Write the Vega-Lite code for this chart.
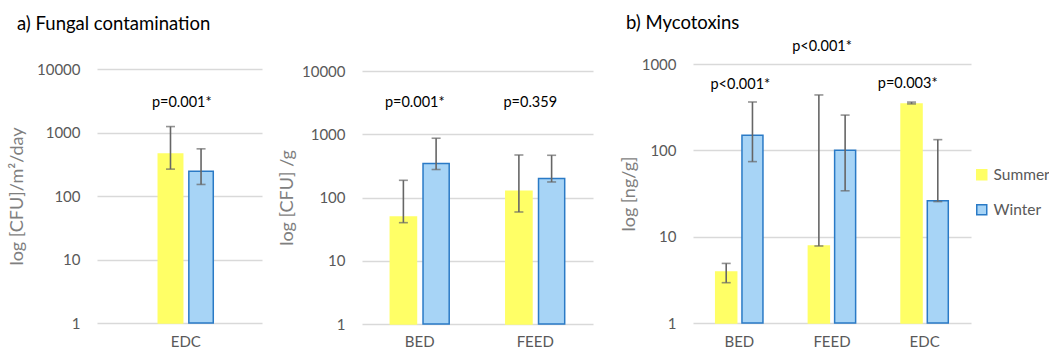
{
  "$schema": "https://vega.github.io/schema/vega-lite/v6.json",
  "autosize": {"type": "none"},
  "padding": {"left": 97, "top": 64, "right": 952, "bottom": 294},
  "background": "white",
  "config": {
    "font": "Lato",
    "view": {"stroke": null},
    "axis": {
      "labelFont": "Lato", "titleFont": "Lato",
      "labelColor": "#595959", "titleColor": "#7F7F7F",
      "titleFontWeight": "normal", "labelFontSize": 15, "titleFontSize": 18,
      "gridColor": "#D9D9D9", "gridWidth": 1.3,
      "domain": false, "ticks": false, "tickSize": 0
    },
    "axisX": {"labelAngle": 0, "labelPadding": 11, "grid": false},
    "axisY": {"labelPadding": 17, "grid": true},
    "legend": {
      "orient": "none", "legendX": 877, "legendY": 103,
      "symbolType": "square", "symbolSize": 100, "symbolStrokeWidth": 1.5,
      "labelFont": "Lato", "labelFontSize": 15.5, "labelColor": "#595959",
      "labelOffset": 4, "rowPadding": 17, "padding": 0
    },
    "title": {"font": "Lato", "fontSize": 18.5, "fontWeight": "normal", "color": "#000000", "anchor": "start", "frame": "group"}
  },
  "datasets": {
    "bars": [
      {"panel": "a1", "cat": "EDC", "season": "Summer", "value": 460, "lo": 265, "hi": 1240},
      {"panel": "a1", "cat": "EDC", "season": "Winter", "value": 246, "lo": 152, "hi": 553},
      {"panel": "a2", "cat": "BED", "season": "Summer", "value": 49, "lo": 40, "hi": 187},
      {"panel": "a2", "cat": "BED", "season": "Winter", "value": 344, "lo": 277, "hi": 865},
      {"panel": "a2", "cat": "FEED", "season": "Summer", "value": 126, "lo": 59, "hi": 470},
      {"panel": "a2", "cat": "FEED", "season": "Winter", "value": 199, "lo": 176, "hi": 465},
      {"panel": "b", "cat": "BED", "season": "Summer", "value": 3.9, "lo": 2.93, "hi": 4.9},
      {"panel": "b", "cat": "BED", "season": "Winter", "value": 150, "lo": 74, "hi": 363},
      {"panel": "b", "cat": "FEED", "season": "Summer", "value": 7.8, "lo": 7.8, "hi": 438},
      {"panel": "b", "cat": "FEED", "season": "Winter", "value": 100, "lo": 34, "hi": 256},
      {"panel": "b", "cat": "EDC", "season": "Summer", "value": 345, "lo": 345, "hi": 362},
      {"panel": "b", "cat": "EDC", "season": "Winter", "value": 26.1, "lo": 25.5, "hi": 133}
    ],
    "labels": [
      {"panel": "a1", "cat": "EDC", "y": 2900, "label": "p=0.001*"},
      {"panel": "a2", "cat": "BED", "y": 3100, "label": "p=0.001*"},
      {"panel": "a2", "cat": "FEED", "y": 3100, "label": "p=0.359"},
      {"panel": "b", "cat": "BED", "y": 575, "label": "p<0.001*"},
      {"panel": "b", "cat": "FEED", "y": 1580, "label": "p<0.001*"},
      {"panel": "b", "cat": "EDC", "y": 590, "label": "p=0.003*"}
    ]
  },
  "bounds": "flush",
  "spacing": 100,
  "resolve": {"scale": {"xOffset": "independent"}},
  "hconcat": [
    {
      "width": 165, "height": 259,
      "title": {"text": "a) Fungal contamination", "dx": -80, "offset": 29},
      "layer": [
        {
          "data": {"name": "bars"},
          "transform": [{"filter": "datum.panel === 'a1'"}],
          "layer": [
            {
              "mark": {"type": "bar", "strokeWidth": 1.5},
              "encoding": {
                "x": {"field": "cat", "type": "nominal", "sort": ["EDC"], "title": null,
                      "scale": {"paddingInner": 0, "paddingOuter": 1, "align": 0.557}},
                "xOffset": {"field": "season", "type": "nominal", "sort": ["Summer", "Winter"], "scale": {"paddingInner": 0.2}},
                "y": {"field": "value", "type": "quantitative",
                      "scale": {"type": "log", "domain": [1, 10000], "range": [259, 5]},
                      "axis": {"values": [1, 10, 100, 1000, 10000], "format": "d", "title": "log [CFU]/m²/day", "titlePadding": 10}},
                "y2": {"datum": 1},
                "color": {"field": "season", "type": "nominal", "title": null,
                          "scale": {"domain": ["Summer", "Winter"], "range": ["#FFFF66", "#A7D4F6"]}},
                "stroke": {"field": "season", "type": "nominal", "title": null,
                           "scale": {"domain": ["Summer", "Winter"], "range": ["#FFFF66", "#2A7AC6"]}}
              }
            },
            {
              "mark": {"type": "rule", "color": "#666666", "strokeWidth": 1.6},
              "encoding": {
                "x": {"field": "cat", "type": "nominal", "sort": ["EDC"]},
                "xOffset": {"field": "season", "type": "nominal", "sort": ["Summer", "Winter"]},
                "y": {"field": "lo", "type": "quantitative"},
                "y2": {"field": "hi"}
              }
            },
            {
              "mark": {"type": "tick", "color": "#666666", "thickness": 1.6, "size": 9},
              "encoding": {
                "x": {"field": "cat", "type": "nominal", "sort": ["EDC"]},
                "xOffset": {"field": "season", "type": "nominal", "sort": ["Summer", "Winter"]},
                "y": {"field": "lo", "type": "quantitative"}
              }
            },
            {
              "mark": {"type": "tick", "color": "#666666", "thickness": 1.6, "size": 9},
              "encoding": {
                "x": {"field": "cat", "type": "nominal", "sort": ["EDC"]},
                "xOffset": {"field": "season", "type": "nominal", "sort": ["Summer", "Winter"]},
                "y": {"field": "hi", "type": "quantitative"}
              }
            }
          ]
        },
        {
          "data": {"name": "labels"},
          "transform": [{"filter": "datum.panel === 'a1'"}],
          "mark": {"type": "text", "fontSize": 14.5, "color": "#000000", "baseline": "middle", "dx": -4},
          "encoding": {
            "x": {"field": "cat", "type": "nominal", "sort": ["EDC"]},
            "y": {"field": "y", "type": "quantitative"},
            "text": {"field": "label"}
          }
        }
      ]
    },
    {
      "width": 231, "height": 259,
      "layer": [
        {
          "data": {"name": "bars"},
          "transform": [{"filter": "datum.panel === 'a2'"}],
          "layer": [
            {
              "mark": {"type": "bar", "strokeWidth": 1.5},
              "encoding": {
                "x": {"field": "cat", "type": "nominal", "sort": ["BED", "FEED"], "title": null,
                      "scale": {"paddingInner": 0.49, "paddingOuter": 0.245}},
                "xOffset": {"field": "season", "type": "nominal", "sort": ["Summer", "Winter"], "scale": {"paddingInner": 0.2}},
                "y": {"field": "value", "type": "quantitative",
                      "scale": {"type": "log", "domain": [1, 10000], "range": [260, 7]},
                      "axis": {"values": [1, 10, 100, 1000, 10000], "format": "d", "title": "log [CFU] /g", "titlePadding": 5}},
                "y2": {"datum": 1},
                "color": {"field": "season", "type": "nominal", "title": null,
                          "scale": {"domain": ["Summer", "Winter"], "range": ["#FFFF66", "#A7D4F6"]}},
                "stroke": {"field": "season", "type": "nominal", "title": null,
                           "scale": {"domain": ["Summer", "Winter"], "range": ["#FFFF66", "#2A7AC6"]}}
              }
            },
            {
              "mark": {"type": "rule", "color": "#666666", "strokeWidth": 1.6},
              "encoding": {
                "x": {"field": "cat", "type": "nominal", "sort": ["BED", "FEED"]},
                "xOffset": {"field": "season", "type": "nominal", "sort": ["Summer", "Winter"]},
                "y": {"field": "lo", "type": "quantitative"},
                "y2": {"field": "hi"}
              }
            },
            {
              "mark": {"type": "tick", "color": "#666666", "thickness": 1.6, "size": 9},
              "encoding": {
                "x": {"field": "cat", "type": "nominal", "sort": ["BED", "FEED"]},
                "xOffset": {"field": "season", "type": "nominal", "sort": ["Summer", "Winter"]},
                "y": {"field": "lo", "type": "quantitative"}
              }
            },
            {
              "mark": {"type": "tick", "color": "#666666", "thickness": 1.6, "size": 9},
              "encoding": {
                "x": {"field": "cat", "type": "nominal", "sort": ["BED", "FEED"]},
                "xOffset": {"field": "season", "type": "nominal", "sort": ["Summer", "Winter"]},
                "y": {"field": "hi", "type": "quantitative"}
              }
            }
          ]
        },
        {
          "data": {"name": "labels"},
          "transform": [{"filter": "datum.panel === 'a2'"}],
          "mark": {"type": "text", "fontSize": 14.5, "color": "#000000", "baseline": "middle", "dx": -5},
          "encoding": {
            "x": {"field": "cat", "type": "nominal", "sort": ["BED", "FEED"]},
            "y": {"field": "y", "type": "quantitative"},
            "text": {"field": "label"}
          }
        }
      ]
    },
    {
      "width": 278, "height": 259,
      "title": {"text": "b) Mycotoxins", "dx": -67, "offset": 6},
      "layer": [
        {
          "data": {"name": "bars"},
          "transform": [{"filter": "datum.panel === 'b'"}],
          "layer": [
            {
              "mark": {"type": "bar", "strokeWidth": 1.5},
              "encoding": {
                "x": {"field": "cat", "type": "nominal", "sort": ["BED", "FEED", "EDC"], "title": null,
                      "scale": {"paddingInner": 0.49, "paddingOuter": 0.245}},
                "xOffset": {"field": "season", "type": "nominal", "sort": ["Summer", "Winter"], "scale": {"paddingInner": 0.2}},
                "y": {"field": "value", "type": "quantitative",
                      "scale": {"type": "log", "domain": [1, 1000], "range": [259, 0]},
                      "axis": {"values": [1, 10, 100, 1000], "format": "d", "title": "log  [ng/g]", "titlePadding": 3}},
                "y2": {"datum": 1},
                "color": {"field": "season", "type": "nominal", "title": null,
                          "scale": {"domain": ["Summer", "Winter"], "range": ["#FFFF66", "#A7D4F6"]}},
                "stroke": {"field": "season", "type": "nominal", "title": null,
                           "scale": {"domain": ["Summer", "Winter"], "range": ["#FFFF66", "#2A7AC6"]}}
              }
            },
            {
              "mark": {"type": "rule", "color": "#666666", "strokeWidth": 1.6},
              "encoding": {
                "x": {"field": "cat", "type": "nominal", "sort": ["BED", "FEED", "EDC"]},
                "xOffset": {"field": "season", "type": "nominal", "sort": ["Summer", "Winter"]},
                "y": {"field": "lo", "type": "quantitative"},
                "y2": {"field": "hi"}
              }
            },
            {
              "mark": {"type": "tick", "color": "#666666", "thickness": 1.6, "size": 9},
              "encoding": {
                "x": {"field": "cat", "type": "nominal", "sort": ["BED", "FEED", "EDC"]},
                "xOffset": {"field": "season", "type": "nominal", "sort": ["Summer", "Winter"]},
                "y": {"field": "lo", "type": "quantitative"}
              }
            },
            {
              "mark": {"type": "tick", "color": "#666666", "thickness": 1.6, "size": 9},
              "encoding": {
                "x": {"field": "cat", "type": "nominal", "sort": ["BED", "FEED", "EDC"]},
                "xOffset": {"field": "season", "type": "nominal", "sort": ["Summer", "Winter"]},
                "y": {"field": "hi", "type": "quantitative"}
              }
            }
          ]
        },
        {
          "data": {"name": "labels"},
          "transform": [{"filter": "datum.panel === 'b' && datum.cat === 'BED'"}],
          "mark": {"type": "text", "fontSize": 14.5, "color": "#000000", "baseline": "middle", "dx": 1},
          "encoding": {
            "x": {"field": "cat", "type": "nominal", "sort": ["BED", "FEED", "EDC"]},
            "y": {"field": "y", "type": "quantitative"},
            "text": {"field": "label"}
          }
        },
        {
          "data": {"name": "labels"},
          "transform": [{"filter": "datum.panel === 'b' && datum.cat === 'FEED'"}],
          "mark": {"type": "text", "fontSize": 14.5, "color": "#000000", "baseline": "middle", "dx": -10},
          "encoding": {
            "x": {"field": "cat", "type": "nominal", "sort": ["BED", "FEED", "EDC"]},
            "y": {"field": "y", "type": "quantitative"},
            "text": {"field": "label"}
          }
        },
        {
          "data": {"name": "labels"},
          "transform": [{"filter": "datum.panel === 'b' && datum.cat === 'EDC'"}],
          "mark": {"type": "text", "fontSize": 14.5, "color": "#000000", "baseline": "middle", "dx": -17},
          "encoding": {
            "x": {"field": "cat", "type": "nominal", "sort": ["BED", "FEED", "EDC"]},
            "y": {"field": "y", "type": "quantitative"},
            "text": {"field": "label"}
          }
        }
      ]
    }
  ]
}
